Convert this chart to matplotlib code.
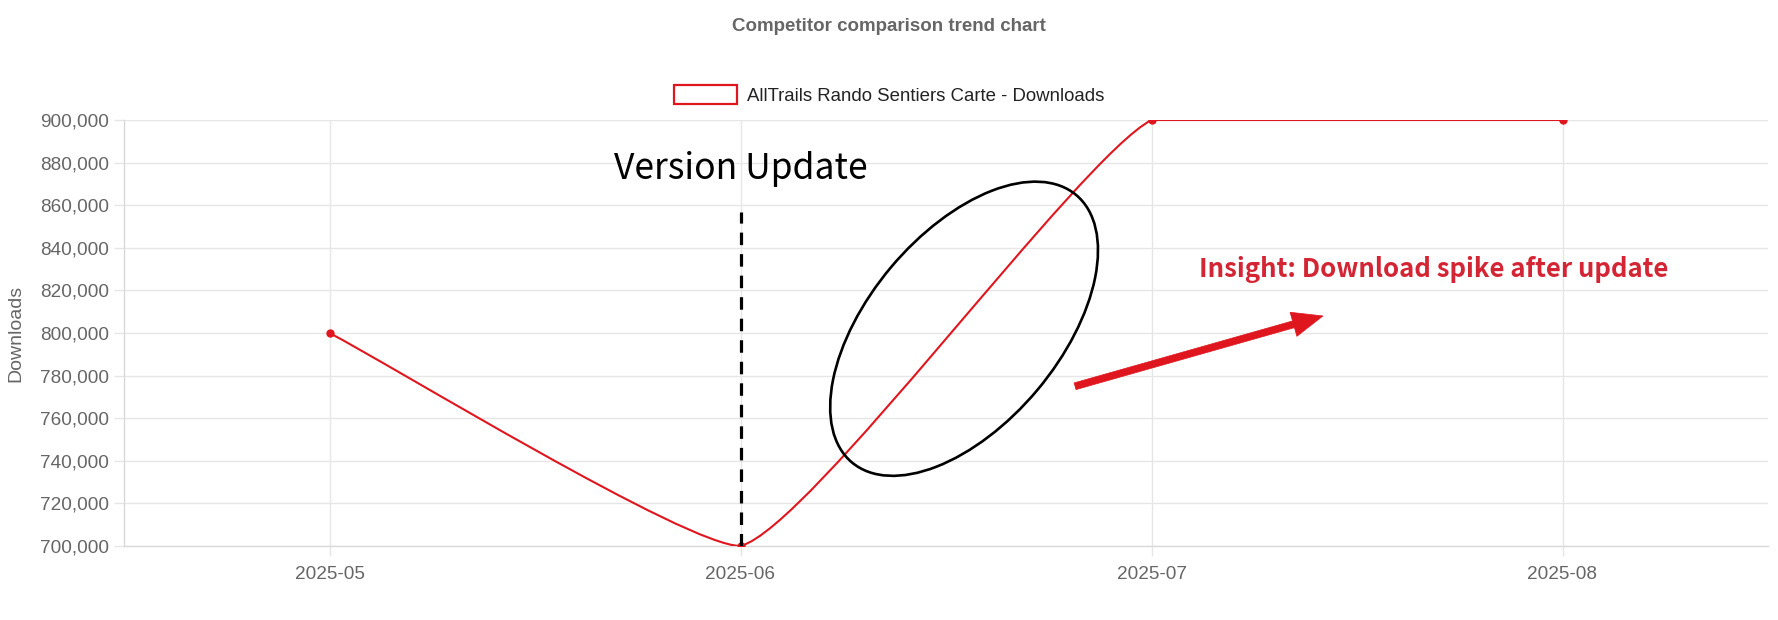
import numpy as np
import matplotlib
matplotlib.use("Agg")
from matplotlib import pyplot as plt
from matplotlib.patches import Ellipse, PathPatch, Patch
from matplotlib.path import Path
from matplotlib.ticker import FuncFormatter, MultipleLocator
from matplotlib.transforms import IdentityTransform

# data
months = ["2025-05", "2025-06", "2025-07", "2025-08"]
downloads = [800000, 700000, 900000, 900000]
series_name = "AllTrails Rando Sentiers Carte - Downloads"
chart_title = "Competitor comparison trend chart"
y_label = "Downloads"
y_min, y_max, y_step = 700000, 900000, 20000
update_month = "2025-06"
update_text = "Version Update"
insight_text = "Insight: Download spike after update"

RED = "#e0161e"
INSIGHT_RED = "#d42535"
GRID = "#e6e6e6"
GRAY = "#666666"

plt.rcParams["font.family"] = ["Liberation Sans", "DejaVu Sans"]
plt.rcParams["lines.scale_dashes"] = False

W, H = 1778, 620
fig = plt.figure(figsize=(W / 100, H / 100), dpi=100)
ax = fig.add_axes([124 / W, (H - 546) / H, (1768 - 124) / W, (546 - 120) / H])

x = np.arange(len(months))
ax.set_xlim(-0.5, len(months) - 0.5)
ax.set_ylim(y_min, y_max)
ax.set_xticks(x)
ax.set_xticklabels(months)
ax.yaxis.set_major_locator(MultipleLocator(y_step))
ax.yaxis.set_major_formatter(FuncFormatter(lambda v, p: f"{v:,.0f}"))
ax.grid(True, color=GRID, lw=1)
ax.set_axisbelow(True)
ax.tick_params(axis="both", length=7.5, width=1, color=GRID, labelcolor=GRAY, labelsize=13.7)
ax.tick_params(axis="y", pad=3.2)
ax.tick_params(axis="x", pad=7)
for s in ["top", "right"]:
    ax.spines[s].set_visible(False)
for s in ["left", "bottom"]:
    ax.spines[s].set_color("#d9d9d9")
    ax.spines[s].set_linewidth(1)

ax.set_ylabel(y_label, color=GRAY, fontsize=14)
ax.yaxis.set_label_coords(-0.0605, 0.5)


def spline_path(xs, ys, tension=0.15):
    # chart.js style bezier through the points, control points capped to the area
    pts = ax.transData.transform(np.column_stack([xs, ys]))
    n = len(pts)
    x0, y0, x1, y1 = ax.bbox.extents
    cps = []
    for i in range(n):
        cur = pts[i]
        prev = pts[i - 1] if i > 0 else cur
        nxt = pts[i + 1] if i < n - 1 else cur
        d01 = np.hypot(*(cur - prev))
        d12 = np.hypot(*(nxt - cur))
        tot = d01 + d12
        fa = tension * d01 / tot if tot else 0
        fb = tension * d12 / tot if tot else 0
        c1 = cur - fa * (nxt - prev)
        c2 = cur + fb * (nxt - prev)
        for c in (c1, c2):
            c[0] = min(max(c[0], x0), x1)
            c[1] = min(max(c[1], y0), y1)
        cps.append((c1, c2))
    verts = [pts[0]]
    codes = [Path.MOVETO]
    for i in range(n - 1):
        verts += [cps[i][1], cps[i + 1][0], pts[i + 1]]
        codes += [Path.CURVE4] * 3
    verts = ax.transData.inverted().transform(np.array(verts))
    return Path(verts, codes)


ax.add_patch(PathPatch(spline_path(x, downloads), fill=False, ec=RED, lw=1.5, zorder=3))
ax.plot(x, downloads, "o", color=RED, ms=5, zorder=4)

# version update marker
ux = months.index(update_month)
ax.vlines(ux, y_min, 857000, colors="black", lw=2.3, linestyles=(0, (9, 6.5)), zorder=5)
ax.text(ux, 872300, update_text, ha="center", va="baseline", fontsize=25.5,
        family=["Noto Sans CJK SC", "DejaVu Sans"], fontweight="light", color="black")

# highlight ellipse around the rise
cx, cy = ax.transData.transform((1.544, 802000))
ax.add_patch(Ellipse((cx, cy), 349, 191, angle=50, transform=IdentityTransform(),
                     fill=False, ec="black", lw=1.9, zorder=6))

# arrow + insight
ax.annotate("", xy=(2.417, 808000), xytext=(1.814, 775000),
            arrowprops=dict(arrowstyle="simple,head_length=2.2,head_width=1.8,tail_width=0.5",
                            mutation_scale=10, fc=RED, ec=RED, lw=0.5, shrinkA=0, shrinkB=0,
                            joinstyle="round", capstyle="round"),
            zorder=6)
ax.text(2.687, 826300, insight_text, ha="center", va="baseline", fontsize=18.5,
        family=["Noto Sans CJK SC", "DejaVu Sans"], fontweight="bold", color=INSIGHT_RED)

# title and legend
fig.text(0.5, (H - 31) / H, chart_title, ha="center", va="baseline",
         fontsize=13.5, fontweight="bold", color=GRAY)
handle = Patch(facecolor="white", edgecolor=RED, linewidth=1.6)
fig.legend([handle], [series_name], loc="center", bbox_to_anchor=(0.5, (H - 95) / H),
           frameon=False, fontsize=13.45, handlelength=3.37, handleheight=1.2,
           handletextpad=0.53, borderpad=0, labelcolor="#222222")

fig.savefig("out.png", dpi=100)
